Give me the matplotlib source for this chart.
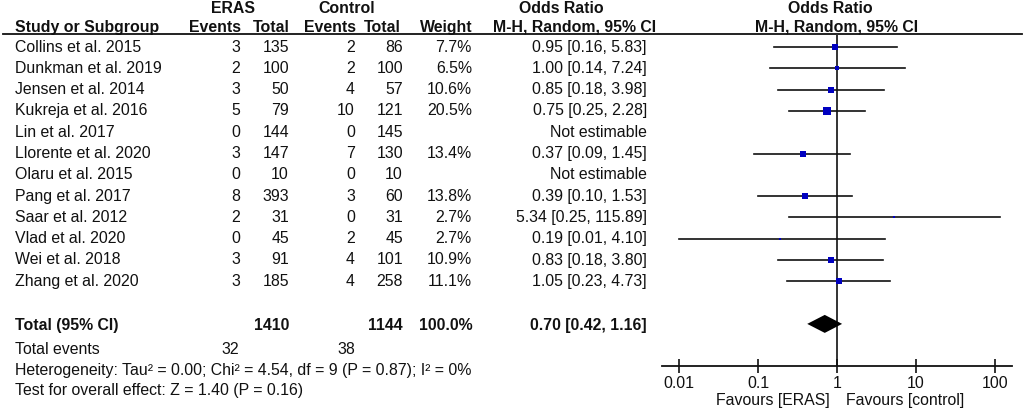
import matplotlib
matplotlib.use('Agg')
import matplotlib.pyplot as plt
from matplotlib.ticker import NullLocator

plt.rcParams['font.family'] = ['Liberation Sans', 'DejaVu Sans']

# ---------------- data ----------------
studies = ["Collins et al. 2015", "Dunkman et al. 2019", "Jensen et al. 2014",
           "Kukreja et al. 2016", "Lin et al. 2017", "Llorente et al. 2020",
           "Olaru et al. 2015", "Pang et al. 2017", "Saar et al. 2012",
           "Vlad et al. 2020", "Wei et al. 2018", "Zhang et al. 2020"]
eras_events = [3, 2, 3, 5, 0, 3, 0, 8, 2, 0, 3, 3]
eras_total = [135, 100, 50, 79, 144, 147, 10, 393, 31, 45, 91, 185]
ctrl_events = [2, 2, 4, 10, 0, 7, 0, 3, 0, 2, 4, 4]
ctrl_total = [86, 100, 57, 121, 145, 130, 10, 60, 31, 45, 101, 258]
weights = [7.7, 6.5, 10.6, 20.5, None, 13.4, None, 13.8, 2.7, 2.7, 10.9, 11.1]
or_est = [0.95, 1.00, 0.85, 0.75, None, 0.37, None, 0.39, 5.34, 0.19, 0.83, 1.05]
ci_low = [0.16, 0.14, 0.18, 0.25, None, 0.09, None, 0.10, 0.25, 0.01, 0.18, 0.23]
ci_high = [5.83, 7.24, 3.98, 2.28, None, 1.45, None, 1.53, 115.89, 4.10, 3.80, 4.73]

total_eras = 1410
total_ctrl = 1144
total_weight = 100.0
total_events_eras = 32
total_events_ctrl = 38
pooled_or = 0.70
pooled_low = 0.42
pooled_high = 1.16
heterogeneity_text = "Heterogeneity: Tau\u00b2 = 0.00; Chi\u00b2 = 4.54, df = 9 (P = 0.87); I\u00b2 = 0%"
overall_text = "Test for overall effect: Z = 1.40 (P = 0.16)"
tick_values = [0.01, 0.1, 1, 10, 100]
tick_labels = ["0.01", "0.1", "1", "10", "100"]

# ---------------- layout ----------------
W, H = 1029, 412
FS = 11.4
ROW0, DY = 47, 21.3
TOTAL_IDX = 13

fig = plt.figure(figsize=(W / 100, H / 100), dpi=100)
bg = fig.add_axes([0, 0, 1, 1])
bg.set_xlim(0, W)
bg.set_ylim(H, 0)
bg.axis('off')


def t(x, y, s, ha='left', bold=False):
    bg.text(x, y, s, ha=ha, va='center', fontsize=FS,
            fontweight='bold' if bold else 'normal', color='#111111')


# column right edges
C_EE, C_ET, C_CE, C_CT, C_W, C_OR = 240, 289, 355, 403, 472, 647

# headers
t(232.5, 8, "ERAS", 'center', True)
t(347, 8, "Control", 'center', True)
t(561, 8, "Odds Ratio", 'center', True)
t(830, 8, "Odds Ratio", 'center', True)
t(15, 27, "Study or Subgroup", 'left', True)
t(C_EE + 1, 27, "Events", 'right', True)
t(C_ET + 1, 27, "Total", 'right', True)
t(C_CE + 1, 27, "Events", 'right', True)
t(C_CT - 2, 27, "Total", 'right', True)
t(C_W + 1, 27, "Weight", 'right', True)
t(575, 27, "M-H, Random, 95% CI", 'center', True)
t(837, 27, "M-H, Random, 95% CI", 'center', True)
bg.plot([3, 1022], [34, 34], color='#111111', lw=1.3)

# study rows
for i, name in enumerate(studies):
    y = ROW0 + i * DY
    t(15, y, name)
    t(C_EE, y, str(eras_events[i]), 'right')
    t(C_ET, y, str(eras_total[i]), 'right')
    t(C_CE, y, str(ctrl_events[i]), 'right')
    t(C_CT, y, str(ctrl_total[i]), 'right')
    if weights[i] is not None:
        t(C_W, y, f"{weights[i]:.1f}%", 'right')
        t(C_OR, y, f"{or_est[i]:.2f} [{ci_low[i]:.2f}, {ci_high[i]:.2f}]", 'right')
    else:
        t(C_OR, y, "Not estimable", 'right')

# totals
yt = ROW0 + TOTAL_IDX * DY + 2
t(15, yt, "Total (95% CI)", 'left', True)
t(C_ET, yt, str(total_eras), 'right', True)
t(C_CT, yt, str(total_ctrl), 'right', True)
t(C_W + 1, yt, f"{total_weight:.1f}%", 'right', True)
t(C_OR, yt, f"{pooled_or:.2f} [{pooled_low:.2f}, {pooled_high:.2f}]", 'right', True)
t(15, 350, "Total events")
t(C_EE - 1, 350, str(total_events_eras), 'right')
t(C_CE, 350, str(total_events_ctrl), 'right')
t(15, 370, heterogeneity_text)
t(15, 390, overall_text)

t(830, 400, "Favours [ERAS]", 'right')
t(846, 400, "Favours [control]", 'left')

# ---------------- forest axes ----------------
left_px, right_px, top_px, bot_px = 662, 1012, 34, 366
ax = fig.add_axes([left_px / W, 1 - bot_px / H, (right_px - left_px) / W,
                   (bot_px - top_px) / H])
ax.set_facecolor('none')
ax.set_xscale('log')
ax.set_xlim(10 ** -2.215, 10 ** 2.215)
ax.set_ylim((bot_px - ROW0) / DY, (top_px - ROW0) / DY)
for s in ['top', 'left', 'right']:
    ax.spines[s].set_visible(False)
ax.spines['bottom'].set_linewidth(1.3)
ax.spines['bottom'].set_color('#111111')
ax.set_yticks([])
ax.set_xticks(tick_values)
ax.set_xticklabels(tick_labels)
ax.xaxis.set_minor_locator(NullLocator())
ax.tick_params(axis='x', direction='inout', length=10, width=1.2,
               color='#111111', labelsize=FS, pad=2, labelcolor='#111111')

ax.axvline(1, color='#333333', lw=1.4, zorder=1)

for i in range(len(studies)):
    if or_est[i] is None:
        continue
    ax.plot([ci_low[i], ci_high[i]], [i, i], color='#111111', lw=1.2, zorder=2)
    ax.plot([or_est[i]], [i], marker='s', linestyle='none',
            markersize=1.3 * weights[i] ** 0.5, color='#0000C0',
            markeredgewidth=0, zorder=3)

hh = 9 / DY
ax.fill([pooled_low, pooled_or, pooled_high, pooled_or],
        [TOTAL_IDX, TOTAL_IDX - hh, TOTAL_IDX, TOTAL_IDX + hh],
        color='black', zorder=3, lw=0)

fig.savefig('out.png', dpi=100)
